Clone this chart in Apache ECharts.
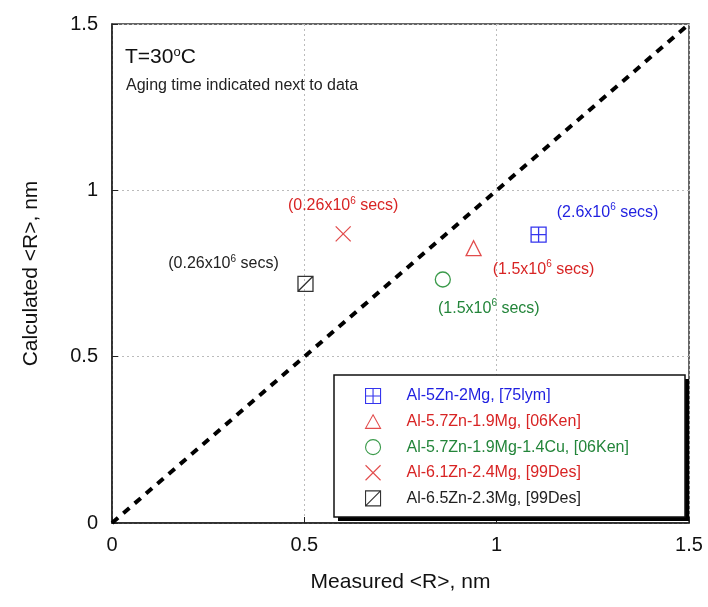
<!DOCTYPE html>
<html>
<head>
<meta charset="utf-8">
<script src="https://cdn.jsdelivr.net/npm/echarts@6/dist/echarts.min.js"></script>
<style>
  html, body { margin: 0; padding: 0; background: #fff; }
  #chart { width: 708px; height: 607px; }
</style>
</head>
<body>
<div id="chart"></div>
<script>
  // alloy series: name, measured <R>, calculated <R>, aging time label
  const seriesNames = ['Al-5Zn-2Mg, [75lym]', 'Al-5.7Zn-1.9Mg, [06Ken]', 'Al-5.7Zn-1.9Mg-1.4Cu, [06Ken]', 'Al-6.1Zn-2.4Mg, [99Des]', 'Al-6.5Zn-2.3Mg, [99Des]']
  const measured = [1.109, 0.940, 0.860, 0.601, 0.503]
  const calculated = [0.867, 0.826, 0.732, 0.869, 0.719]
  const agingTimes = ['2.6', '1.5', '1.5', '0.26', '0.26']
  const axisTicks = [0, 0.5, 1, 1.5]
  const diagonal = [[0, 0], [1.5, 1.5]]

  const textColors = ['#1f1fe0', '#d82424', '#23853a', '#d82424', '#222222']
  const markColors = ['#3535ee', '#e24c4c', '#3a9a4a', '#e24c4c', '#333333']
  const symbols = [
    'path://M0,0H10V10H0Z M5,0V10 M0,5H10',
    'path://M5,0L10,9H0Z',
    'circle',
    'path://M0,0L10,10 M10,0L0,10',
    'path://M0,0H10V10H0Z M0,10L10,0'
  ]
  const labelOffsets = [[69, -23], [70, 20], [46, 28], [0, -29], [-82, -21]]

  const chart = echarts.init(document.getElementById('chart'))
  const font = 'Liberation Sans, Arial, sans-serif'

  const scatterSeries = seriesNames.map((name, i) => ({
    name: name,
    type: 'scatter',
    symbol: symbols[i],
    symbolSize: 15,
    itemStyle: {
      color: 'rgba(0,0,0,0)',
      borderColor: markColors[i],
      borderWidth: 1.3,
      opacity: 1
    },
    label: {
      show: true,
      position: 'inside',
      offset: labelOffsets[i],
      formatter: '{n|(' + agingTimes[i] + 'x10}{sup|6}{n| secs)}',
      rich: {
        n: { fontSize: 16, color: textColors[i], fontFamily: font, verticalAlign: 'bottom' },
        sup: { fontSize: 10, color: textColors[i], fontFamily: font, verticalAlign: 'bottom', padding: [0, 0, 8, 0] }
      }
    },
    emphasis: { disabled: true },
    data: [[measured[i], calculated[i]]],
    z: 4
  }))

  const axisCommon = {
    type: 'value',
    min: 0,
    max: 1.5,
    interval: 0.5,
    nameLocation: 'middle',
    nameTextStyle: { fontSize: 21, color: '#111', fontFamily: font },
    axisLine: { show: true, lineStyle: { color: '#222', width: 1.5 } },
    axisTick: { show: true, inside: true, length: 6, lineStyle: { color: '#222' } },
    axisLabel: {
      fontSize: 20, color: '#111', fontFamily: font,
      formatter: v => axisTicks.includes(v) ? String(v) : ''
    },
    splitLine: { show: true, lineStyle: { color: '#bbb', type: [2, 3], width: 1 } }
  }

  chart.setOption({
    animation: false,
    textStyle: { fontFamily: font },
    grid: {
      left: 112, right: 19, top: 24, bottom: 84,
      show: true, borderColor: '#333', borderWidth: 1.5, backgroundColor: '#fff'
    },
    xAxis: Object.assign({}, axisCommon, {
      name: 'Measured <R>, nm',
      nameGap: 49,
      axisLabel: Object.assign({}, axisCommon.axisLabel, { margin: 12 })
    }),
    yAxis: Object.assign({}, axisCommon, {
      name: 'Calculated <R>, nm',
      nameGap: 70,
      axisLabel: Object.assign({}, axisCommon.axisLabel, { margin: 14 })
    }),
    legend: {
      orient: 'vertical',
      left: 334,
      top: 375,
      padding: [13, 10, 10, 31],
      itemWidth: 15,
      itemHeight: 15,
      itemGap: 9.5,
      selectedMode: false,
      backgroundColor: 'transparent',
      itemStyle: { borderWidth: 1.1 },
      z: 6,
      data: seriesNames.map((n, i) => ({
        name: n,
        textStyle: { color: textColors[i], fontSize: 16, fontFamily: font, padding: [0, 0, 0, 21] }
      }))
    },
    graphic: [
      {
        // hard drop shadow of the legend box
        type: 'rect',
        z: 5,
        shape: { x: 338, y: 379, width: 351, height: 142 },
        style: { fill: '#000' }
      },
      {
        type: 'rect',
        z: 5,
        shape: { x: 334, y: 375, width: 351, height: 142 },
        style: { fill: '#fff', stroke: '#111', lineWidth: 1.5 }
      },
      {
        type: 'text',
        z: 5,
        left: 125,
        top: 46,
        style: {
          text: '{n|T=30}{sup|o}{n|C}',
          fill: '#111',
          rich: {
            n: { fontSize: 21, fill: '#111', fontFamily: font, verticalAlign: 'bottom' },
            sup: { fontSize: 13, fill: '#111', fontFamily: font, verticalAlign: 'bottom', padding: [0, 0, 9, 0] }
          }
        }
      },
      {
        type: 'text',
        z: 5,
        left: 126,
        top: 78,
        style: {
          text: 'Aging time indicated next to data',
          fontSize: 16,
          fill: '#222',
          fontFamily: font
        }
      }
    ],
    series: [
      {
        name: 'diagonal',
        type: 'line',
        data: diagonal,
        symbol: 'none',
        lineStyle: { color: '#000', width: 4, type: [8, 7] },
        emphasis: { disabled: true },
        z: 3
      }
    ].concat(scatterSeries)
  })
</script>
</body>
</html>
